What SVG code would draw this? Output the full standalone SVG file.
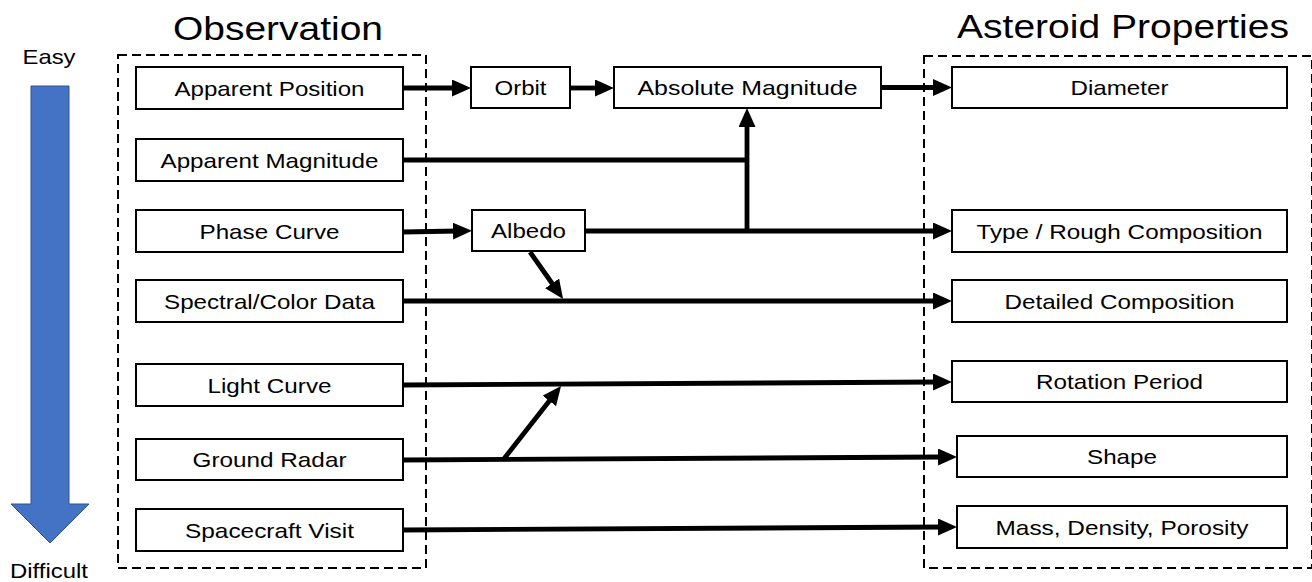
<svg xmlns="http://www.w3.org/2000/svg" width="1312" height="582" viewBox="0 0 1312 582">
<style>
text{font-family:"Liberation Sans",Arial,sans-serif;fill:#000}
.n{font-size:21px;text-anchor:middle}
.t{font-size:33px;text-anchor:middle}
.box{fill:#fff;stroke:#000;stroke-width:2}
.dash{fill:none;stroke:#000;stroke-width:2;stroke-dasharray:9 5}
.c{fill:none;stroke:#000;stroke-width:4.8}
.a{marker-end:url(#ah)}
</style>
<defs>
<marker id="ah" markerUnits="userSpaceOnUse" markerWidth="19" markerHeight="17" viewBox="0 0 19 17" refX="5" refY="8.5" orient="auto">
<path d="M0,0 L19,8.5 L0,17 z" fill="#000"/>
</marker>
</defs>
<rect width="1312" height="582" fill="#fff"/>
<g id="scale">
<polygon points="31,86 69,86 69,504 89,504 50,543 11,504 31,504" fill="#4472C4" stroke="#2F528F" stroke-width="1"/>
<text class="n" x="49" y="64" textLength="53" lengthAdjust="spacingAndGlyphs">Easy</text>
<text class="n" x="49" y="578" textLength="78" lengthAdjust="spacingAndGlyphs">Difficult</text>
</g>
<g id="observation-group">
<rect class="dash" x="118" y="55" width="308" height="513"/>
<text class="t" x="278" y="40" textLength="210" lengthAdjust="spacingAndGlyphs">Observation</text>
</g>
<g id="properties-group">
<rect class="dash" x="924" y="56" width="388" height="512"/>
<text class="t" x="1123" y="38" textLength="332" lengthAdjust="spacingAndGlyphs">Asteroid Properties</text>
</g>
<g id="connectors">
<path class="c a" d="M403,88 H457"/>
<path class="c a" d="M570,88 H600"/>
<path class="c a" d="M881,87.5 H938"/>
<path class="c" d="M403,160 H747"/>
<path class="c a" d="M747,231 V122"/>
<path class="c a" d="M403,232 L458,231"/>
<path class="c a" d="M585,231 H938"/>
<path class="c a" d="M530,252 L555,287.5"/>
<path class="c a" d="M403,301 H938"/>
<path class="c a" d="M403,385 L938,382"/>
<path class="c a" d="M403,460 L943,457"/>
<path class="c a" d="M503,460 L552.4,397"/>
<path class="c a" d="M403,530 L943,527"/>
</g>
<g id="apparent-position"><rect class="box" x="136" y="67" width="267" height="42"/><text class="n" x="269.5" y="95.5" textLength="190" lengthAdjust="spacingAndGlyphs">Apparent Position</text></g>
<g id="apparent-magnitude"><rect class="box" x="136" y="139" width="267" height="42"/><text class="n" x="269.5" y="167.5" textLength="218" lengthAdjust="spacingAndGlyphs">Apparent Magnitude</text></g>
<g id="phase-curve"><rect class="box" x="136" y="210" width="267" height="42"/><text class="n" x="269.5" y="238.5" textLength="140" lengthAdjust="spacingAndGlyphs">Phase Curve</text></g>
<g id="spectral-color-data"><rect class="box" x="136" y="280" width="267" height="42"/><text class="n" x="269.5" y="308.5" textLength="211" lengthAdjust="spacingAndGlyphs">Spectral/Color Data</text></g>
<g id="light-curve"><rect class="box" x="136" y="364" width="267" height="42"/><text class="n" x="269.5" y="392.5" textLength="124" lengthAdjust="spacingAndGlyphs">Light Curve</text></g>
<g id="ground-radar"><rect class="box" x="136" y="439" width="267" height="41"/><text class="n" x="269.5" y="467" textLength="154" lengthAdjust="spacingAndGlyphs">Ground Radar</text></g>
<g id="spacecraft-visit"><rect class="box" x="136" y="509" width="267" height="42"/><text class="n" x="269.5" y="537.5" textLength="169" lengthAdjust="spacingAndGlyphs">Spacecraft Visit</text></g>
<g id="orbit"><rect class="box" x="471" y="67" width="99" height="41"/><text class="n" x="520.5" y="95" textLength="52" lengthAdjust="spacingAndGlyphs">Orbit</text></g>
<g id="absolute-magnitude"><rect class="box" x="614" y="67" width="267" height="41"/><text class="n" x="747.5" y="95" textLength="220" lengthAdjust="spacingAndGlyphs">Absolute Magnitude</text></g>
<g id="albedo"><rect class="box" x="472" y="210" width="113" height="41"/><text class="n" x="528.5" y="238" textLength="75" lengthAdjust="spacingAndGlyphs">Albedo</text></g>
<g id="diameter"><rect class="box" x="952" y="67" width="335" height="41"/><text class="n" x="1119.5" y="95" textLength="98" lengthAdjust="spacingAndGlyphs">Diameter</text></g>
<g id="type-rough-composition"><rect class="box" x="952" y="210" width="335" height="42"/><text class="n" x="1119.5" y="238.5" textLength="286" lengthAdjust="spacingAndGlyphs">Type / Rough Composition</text></g>
<g id="detailed-composition"><rect class="box" x="952" y="280" width="335" height="42"/><text class="n" x="1119.5" y="308.5" textLength="230" lengthAdjust="spacingAndGlyphs">Detailed Composition</text></g>
<g id="rotation-period"><rect class="box" x="952" y="361" width="335" height="41"/><text class="n" x="1119.5" y="389" textLength="167" lengthAdjust="spacingAndGlyphs">Rotation Period</text></g>
<g id="shape"><rect class="box" x="957" y="436" width="330" height="41"/><text class="n" x="1122" y="464" textLength="70" lengthAdjust="spacingAndGlyphs">Shape</text></g>
<g id="mass-density-porosity"><rect class="box" x="957" y="506" width="330" height="42"/><text class="n" x="1122" y="534.5" textLength="253" lengthAdjust="spacingAndGlyphs">Mass, Density, Porosity</text></g>
</svg>
